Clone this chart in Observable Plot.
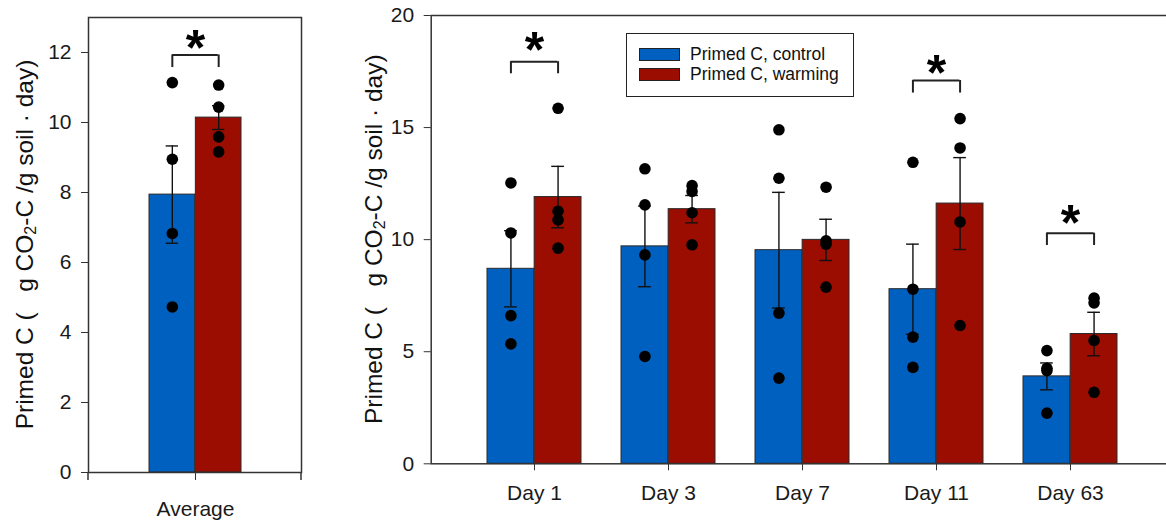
<!DOCTYPE html>
<html>
<head>
<meta charset="utf-8">
<script src="https://cdn.jsdelivr.net/npm/d3@7"></script>
<script src="https://cdn.jsdelivr.net/npm/@observablehq/plot@0.6"></script>
<style>
html, body { margin: 0; padding: 0; background: #fff; width: 1166px; height: 525px; overflow: hidden; }
#wrap { position: relative; width: 1166px; height: 525px; overflow: hidden; font-family: "Liberation Sans", Arial, sans-serif; }
#left { position: absolute; left: 0; top: 0; width: 310px; height: 525px; }
#right { position: absolute; left: 320px; top: 0; width: 860px; height: 525px; }
#wrap svg { max-width: none !important; }
#legend { position: absolute; left: 626px; top: 33px; width: 228px; height: 64px; border: 1.5px solid #222; background: #fff; box-sizing: border-box; }
.sw { position: absolute; left: 12px; width: 41px; height: 13px; border: 1px solid #222; box-sizing: border-box; }
.lt { position: absolute; left: 63px; font-size: 17.5px; color: #111; line-height: 1; white-space: nowrap; }
</style>
</head>
<body>
<div id="wrap">
  <div id="left"></div>
  <div id="right"></div>
  <div id="legend"></div>
</div>
<script>
// ---------- data ----------
const days = ["Day 1", "Day 3", "Day 7", "Day 11", "Day 63"];
const controlMean = [8.70, 9.70, 9.53, 7.79, 3.90];
const controlSE = [1.70, 1.80, 2.58, 2.01, 0.60];
const warmingMean = [11.90, 11.36, 9.99, 11.61, 5.79];
const warmingSE = [1.37, 0.61, 0.92, 2.05, 0.97];
const controlPoints = [
  [12.53, 10.30, 6.61, 5.35],
  [13.16, 11.55, 9.32, 4.79],
  [14.90, 12.74, 6.72, 3.82],
  [13.45, 7.79, 5.65, 4.30],
  [5.05, 4.26, 4.16, 2.26]
];
const warmingPoints = [
  [15.86, 11.27, 10.88, 9.62],
  [12.41, 12.15, 11.20, 9.77],
  [12.34, 9.95, 9.80, 7.88],
  [15.40, 14.09, 10.79, 6.17],
  [7.39, 7.18, 5.50, 3.19]
];
const sigDays = ["Day 1", "Day 11", "Day 63"];
const sigBracket = [17.94, 17.10, 10.29];
const sigLeg = [17.40, 16.54, 9.74];
const sigStar = [18.80, 17.77, 11.08];

const avgCats = ["Average"];
const avgControlMean = [7.94];
const avgControlSE = [1.39];
const avgWarmingMean = [10.14];
const avgWarmingSE = [0.34];
const avgControlPoints = [[11.14, 8.95, 6.83, 4.73]];
const avgWarmingPoints = [[11.07, 10.44, 9.59, 9.16]];
const avgSigCats = ["Average"];
const avgSigBracket = [11.93];
const avgSigLeg = [11.57];
const avgSigStar = [12.36];

const yTicksLeft = [0, 2, 4, 6, 8, 10, 12];
const yTicksRight = [0, 5, 10, 15, 20];
const seriesLabels = ["Primed C, control", "Primed C, warming"];

// ---------- style ----------
const FONT = '"Liberation Sans", Arial, sans-serif';
const BLUE = "#0060c0";
const RED = "#9b0d00";
const OUTLINE = "#2a2a2a";
const INK = "#111";

function panel(o) {
  const xs = Plot.scale({x: {type: "band", domain: o.cats, range: [o.ml, o.width - o.mr],
    paddingInner: o.pi, paddingOuter: o.po, align: 0.5}});
  const bw = xs.bandwidth;
  const q = bw / 4;
  const cap = 6.5;
  const rows = o.cats.map((c, i) => ({cat: c, cm: o.cMean[i], cs: o.cSE[i], wm: o.wMean[i], ws: o.wSE[i]}));
  const cDots = o.cats.flatMap((c, i) => o.cPts[i].map(v => ({cat: c, v})));
  const wDots = o.cats.flatMap((c, i) => o.wPts[i].map(v => ({cat: c, v})));
  const sig = o.sigCats.map((c, i) => ({cat: c, b: o.sigB[i], l: o.sigL[i], s: o.sigS[i]}));
  const err = {stroke: INK, strokeWidth: 1.4};
  return Plot.plot({
    width: o.width, height: 525,
    marginLeft: o.ml, marginRight: o.mr, marginTop: o.mt, marginBottom: o.mb,
    style: {fontFamily: FONT, color: "#1a1a1a", background: "transparent", overflow: "visible", maxWidth: "none"},
    x: {type: "band", domain: o.cats, paddingInner: o.pi, paddingOuter: o.po, align: 0.5},
    y: {domain: [0, o.yMax]},
    marks: [
      Plot.barY(rows, {x: "cat", y: "cm", fill: BLUE, stroke: OUTLINE, strokeWidth: 1, insetRight: bw / 2}),
      Plot.barY(rows, {x: "cat", y: "wm", fill: RED, stroke: OUTLINE, strokeWidth: 1, insetLeft: bw / 2}),
      // error bars control
      Plot.ruleX(rows, {x: "cat", y1: d => d.cm - d.cs, y2: d => d.cm + d.cs, dx: -q, ...err}),
      Plot.tickY(rows, {x: "cat", y: d => d.cm + d.cs, insetLeft: q - cap, insetRight: bw - q - cap, ...err}),
      Plot.tickY(rows, {x: "cat", y: d => d.cm - d.cs, insetLeft: q - cap, insetRight: bw - q - cap, ...err}),
      // error bars warming
      Plot.ruleX(rows, {x: "cat", y1: d => d.wm - d.ws, y2: d => d.wm + d.ws, dx: q, ...err}),
      Plot.tickY(rows, {x: "cat", y: d => d.wm + d.ws, insetLeft: 3 * q - cap, insetRight: q - cap, ...err}),
      Plot.tickY(rows, {x: "cat", y: d => d.wm - d.ws, insetLeft: 3 * q - cap, insetRight: q - cap, ...err}),
      // points
      Plot.dot(cDots, {x: "cat", y: "v", dx: -q, r: 5.8, fill: "#000"}),
      Plot.dot(wDots, {x: "cat", y: "v", dx: q, r: 5.8, fill: "#000"}),
      // significance brackets
      Plot.tickY(sig, {x: "cat", y: "b", insetLeft: q, insetRight: q, stroke: "#222", strokeWidth: 2}),
      Plot.ruleX(sig, {x: "cat", y1: "l", y2: "b", dx: -q, stroke: "#222", strokeWidth: 2}),
      Plot.ruleX(sig, {x: "cat", y1: "l", y2: "b", dx: q, stroke: "#222", strokeWidth: 2}),
      Plot.text(sig, {x: "cat", y: "s", text: () => "*", fontSize: 50, fontWeight: "bold", dy: 9, fill: "#000"}),
      Plot.frame({stroke: "#333", strokeWidth: 1.5}),
      Plot.axisY({ticks: o.yTicks, tickSize: 7, tickPadding: 10, fontSize: 21, label: null, stroke: "#333"}),
      Plot.axisX({tickSize: o.xts, tickPadding: o.xtp, fontSize: 21, label: null, stroke: "#333"})
    ]
  });
}

function addYLabel(svg, cx, cy) {
  const t = d3.select(svg).append("text")
    .attr("transform", `translate(${cx},${cy}) rotate(-90)`)
    .attr("text-anchor", "middle")
    .attr("dominant-baseline", "central")
    .attr("font-family", FONT)
    .attr("font-size", 24.5)
    .attr("fill", "#111")
    .style("white-space", "pre");
  t.append("tspan").text("Primed C (   g CO");
  t.append("tspan").attr("font-size", 16).attr("dy", 6).text("2");
  t.append("tspan").attr("dy", -6).text("-C /g soil \u00b7 day)");
}

// Left panel
const leftSvg = panel({
  cats: avgCats, cMean: avgControlMean, cSE: avgControlSE, wMean: avgWarmingMean, wSE: avgWarmingSE,
  cPts: avgControlPoints, wPts: avgWarmingPoints,
  sigCats: avgSigCats, sigB: avgSigBracket, sigL: avgSigLeg, sigS: avgSigStar,
  yMax: 13, yTicks: yTicksLeft, width: 310, ml: 88, mr: 9, mt: 17, mb: 53,
  pi: 0, po: 0.649, xts: 8, xtp: 21
});
document.getElementById("left").appendChild(leftSvg);
addYLabel(leftSvg, 24, 244.5);
// edge ticks under the left frame
d3.select(leftSvg).append("g").attr("stroke", "#333").attr("stroke-width", 1.5)
  .selectAll("line").data([88, 310 - 9]).join("line")
  .attr("x1", d => d).attr("x2", d => d).attr("y1", 525 - 53).attr("y2", 525 - 53 + 8);

// Right panel
const rightSvg = panel({
  cats: days, cMean: controlMean, cSE: controlSE, wMean: warmingMean, wSE: warmingSE,
  cPts: controlPoints, wPts: warmingPoints,
  sigCats: sigDays, sigB: sigBracket, sigL: sigLeg, sigS: sigStar,
  yMax: 20, yTicks: yTicksRight, width: 860, ml: 110.7, mr: 8, mt: 15, mb: 61.7,
  pi: 0.301, po: 0.398, xts: 7, xtp: 14
});
document.getElementById("right").appendChild(rightSvg);
addYLabel(rightSvg, 52.5, 239.2);

// Legend
const legend = document.getElementById("legend");
[BLUE, RED].forEach((c, i) => {
  const sw = document.createElement("div");
  sw.className = "sw";
  sw.style.top = (14 + i * 20) + "px";
  sw.style.background = c;
  legend.appendChild(sw);
  const lt = document.createElement("div");
  lt.className = "lt";
  lt.style.top = (12 + i * 20) + "px";
  lt.textContent = seriesLabels[i];
  legend.appendChild(lt);
});
</script>
</body>
</html>
